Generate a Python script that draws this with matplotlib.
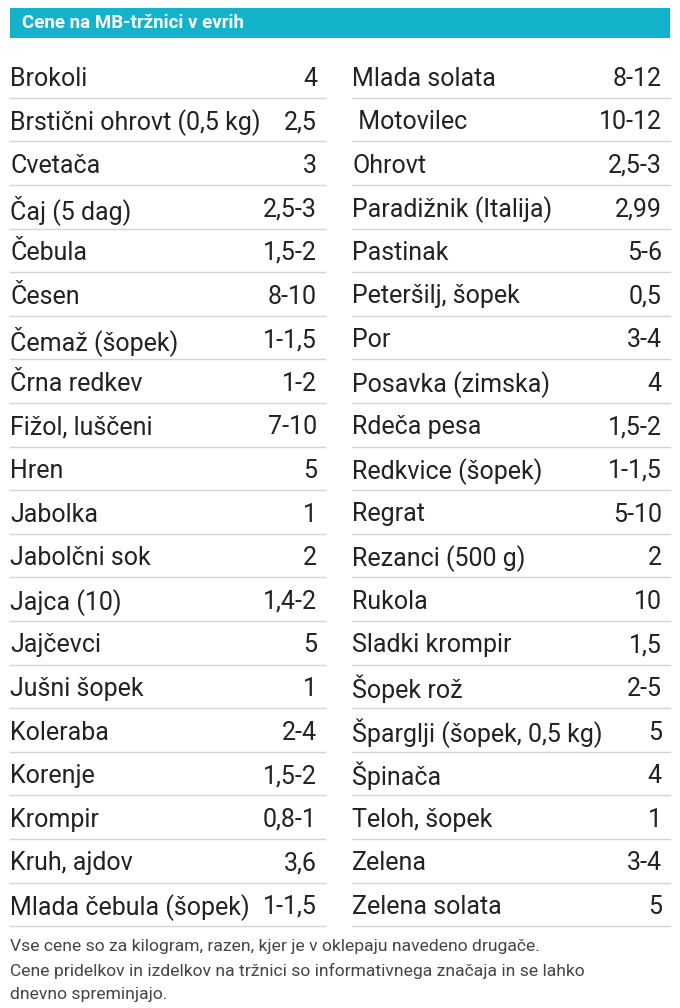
import matplotlib
matplotlib.use("Agg")
import matplotlib.pyplot as plt

title = "Cene na MB-tržnici v evrih"
left_items = ["Brokoli","Brstični ohrovt (0,5 kg)","Cvetača","Čaj (5 dag)","Čebula","Česen","Čemaž (šopek)","Črna redkev","Fižol, luščeni","Hren","Jabolka","Jabolčni sok","Jajca (10)","Jajčevci","Jušni šopek","Koleraba","Korenje","Krompir","Kruh, ajdov","Mlada čebula (šopek)"]
left_prices = ["4","2,5","3","2,5-3","1,5-2","8-10","1-1,5","1-2","7-10","5","1","2","1,4-2","5","1","2-4","1,5-2","0,8-1","3,6","1-1,5"]
right_items = ["Mlada solata"," Motovilec","Ohrovt","Paradižnik (Italija)","Pastinak","Peteršilj, šopek","Por","Posavka (zimska)","Rdeča pesa","Redkvice (šopek)","Regrat","Rezanci (500 g)","Rukola","Sladki krompir","Šopek rož","Šparglji (šopek, 0,5 kg)","Špinača","Teloh, šopek","Zelena","Zelena solata"]
right_prices = ["8-12","10-12","2,5-3","2,99","5-6","0,5","3-4","4","1,5-2","1-1,5","5-10","2","10","1,5","2-5","5","4","1","3-4","5"]
footer = ["Vse cene so za kilogram, razen, kjer je v oklepaju navedeno drugače.",
          "Cene pridelkov in izdelkov na tržnici so informativnega značaja in se lahko",
          "dnevno spreminjajo."]

W, H = 680, 1008
fig = plt.figure(figsize=(6.8, 10.08), dpi=100)
ax = fig.add_axes([0, 0, 1, 1])
ax.set_xlim(0, W); ax.set_ylim(H, 0); ax.axis("off")
font = "Roboto"

ax.add_patch(plt.Rectangle((10, 8), 660, 30, color="#14b3cc", lw=0))
ax.text(22, 23, title, color="white", fontsize=13.5, fontweight="bold", family=font, va="center")

y0, dy = 76, 43.6
cols = [(10, 325, left_items, left_prices), (352, 670, right_items, right_prices)]
for x0, x1, items, prices in cols:
    for i, (n, p) in enumerate(zip(items, prices)):
        y = y0 + i * dy
        ax.text(x0, y, n, fontsize=18, family=font, color="#222222", va="center_baseline", stretch="condensed")
        ax.text(x1 - 8, y, p, fontsize=18, family=font, color="#222222", va="center_baseline", ha="right")
        ax.plot([x0, x1], [y + dy / 2, y + dy / 2], color="#d5d5d5", lw=1)

for j, line in enumerate(footer):
    ax.text(10, 945 + j * 24, line, fontsize=12.6, family=font, color="#444444", va="center_baseline")

fig.savefig("out.png", dpi=100)
